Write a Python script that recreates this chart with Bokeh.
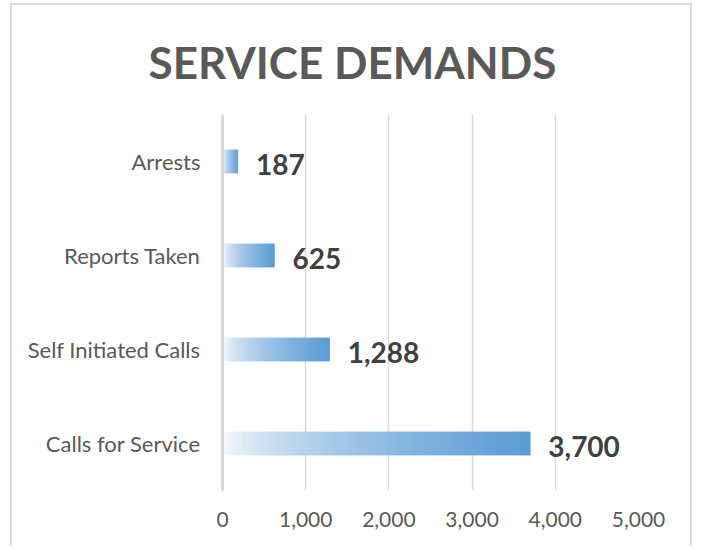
from bokeh.plotting import figure
from bokeh.models import FactorRange, Range1d, FixedTicker, NumeralTickFormatter, ColumnDataSource
from bokeh.core.properties import value
from bokeh.embed import file_html
from bokeh.resources import INLINE

categories = ["Calls for Service", "Self Initiated Calls", "Reports Taken", "Arrests"]
values = [3700, 1288, 625, 187]
labels = ["3,700", "1,288", "625", "187"]
x_ticks = [0, 1000, 2000, 3000, 4000, 5000]
title_text = "SERVICE DEMANDS"

FONT = "Lato"
end_rgb = (91, 155, 213)
N = 60

p = figure(width=682, height=543, y_range=FactorRange(*categories), title=title_text,
           x_range=Range1d(0, 5000), output_backend="svg", toolbar_location=None,
           min_border_left=210, min_border_right=56, min_border_top=109, min_border_bottom=58)
p.styles = {"border-top": "2px solid #D9D9D9", "border-left": "2px solid #D9D9D9",
            "border-right": "2px solid #D9D9D9", "margin-left": "10px", "margin-top": "3px"}

# gradient bars built as slices of each data bar
segs = dict(y=[], left=[], right=[], color=[])
for cat, v in zip(categories, values):
    for i in range(N):
        t = (i + 0.5) / N
        w = t ** 0.6
        c = tuple(int(round(255 + w * (e - 255))) for e in end_rgb)
        segs["y"].append(cat)
        segs["left"].append(v * i / N)
        segs["right"].append(v * min(i + 2, N) / N)
        segs["color"].append("#%02x%02x%02x" % c)
p.hbar(y="y", left="left", right="right", height=0.25, fill_color="color",
       line_color=None, source=ColumnDataSource(segs))

lab = ColumnDataSource(dict(y=categories, x=values, t=labels))
p.text(x="x", y="y", text="t", source=lab, x_offset=18, y_offset=3,
       text_baseline="middle", text_align="left", text_font=value(FONT),
       text_font_style="bold", text_font_size="28px", text_color="#404040")

p.title.align = "left"
p.title.offset = -74
p.title.standoff = 54
p.title.text_font = FONT
p.title.text_font_size = "44px"
p.title.text_font_style = "bold"
p.title.text_color = "#595959"

p.outline_line_color = None
p.border_fill_color = "white"
p.ygrid.grid_line_color = None
p.xgrid.grid_line_color = "#D9D9D9"
p.xgrid.grid_line_width = 1.5
p.xaxis.ticker = FixedTicker(ticks=x_ticks)
p.xaxis.formatter = NumeralTickFormatter(format="0,0")
p.xaxis.axis_line_color = None
p.xaxis.major_tick_line_color = None
p.xaxis.minor_tick_line_color = None
p.xaxis.major_label_standoff = 15
p.xaxis.major_label_text_font = FONT
p.xaxis.major_label_text_font_size = "21px"
p.xaxis.major_label_text_color = "#595959"

p.yaxis.axis_line_color = "#D9D9D9"
p.yaxis.axis_line_width = 3
p.yaxis.major_tick_line_color = None
p.yaxis.minor_tick_line_color = None
p.yaxis.major_label_standoff = 16
p.yaxis.major_label_text_font = FONT
p.yaxis.major_label_text_font_size = "22px"
p.yaxis.major_label_text_color = "#595959"

html = file_html(p, INLINE)
open("out.html", "w").write(html)
